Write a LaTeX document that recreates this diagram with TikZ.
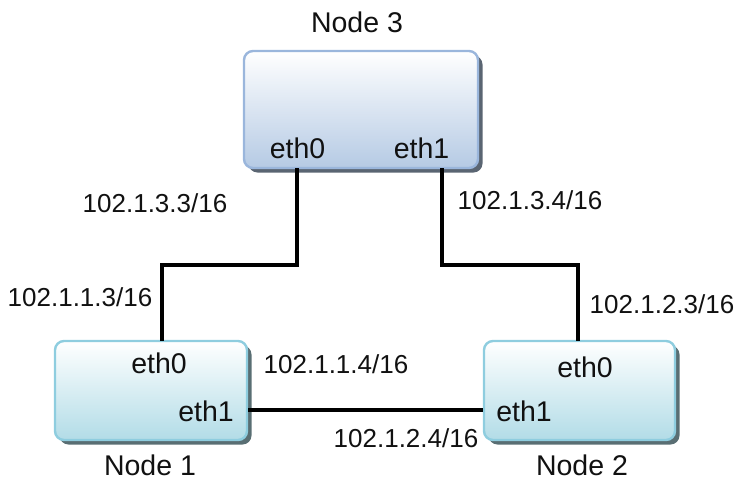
\documentclass[tikz,border=0pt]{standalone}
\usepackage{fontspec}
\setmainfont{Liberation Sans}
\usetikzlibrary{positioning, shadows, calc}
\definecolor{bodyText}{HTML}{111111}
\definecolor{hostBlue}{HTML}{B5CAE4}
\definecolor{hostBlueEdge}{HTML}{9AB6DC}
\definecolor{hostCyan}{HTML}{B2DCE7}
\definecolor{hostCyanEdge}{HTML}{8ECDDF}

\begin{document}
\begin{tikzpicture}[x=1pt, y=-1pt,
  every node/.style={font=\fontsize{26}{30}\selectfont, text=bodyText, inner sep=0pt},
  hostbox/.style={rectangle, rounded corners=9pt, line width=2.4pt, top color=white,
              drop shadow={shadow xshift=4.5pt, shadow yshift=-4.5pt, fill=black!50!#1, opacity=1}},
  bluehost/.style={hostbox=hostBlue, draw=hostBlueEdge, bottom color=hostBlue},
  cyanhost/.style={hostbox=hostCyan, draw=hostCyanEdge, bottom color=hostCyan},
  title/.style={anchor=base, font=\fontsize{28.5}{32}\selectfont},
  port/.style={anchor=base, font=\fontsize{28.5}{32}\selectfont},
  addr/.style={anchor=base},
  link/.style={draw=black, line width=3.5pt},
]
  \useasboundingbox (0,0) rectangle (738,483);

  % hosts
  \node[bluehost, minimum width=234pt, minimum height=117pt] at (361,109.5) (n3) {};
  \node[cyanhost, minimum width=192pt, minimum height=99pt] at (151,390.5) (n1) {};
  \node[cyanhost, minimum width=191pt, minimum height=99pt] at (579.5,390.5) (n2) {};

  \node[title] at (357,32)  (t3) {Node 3};
  \node[title] at (150,475) (t1) {Node 1};
  \node[title] at (582,475) (t2) {Node 2};

  % interfaces
  \node[port] at (297.5,158) (n3e0) {eth0};
  \node[port] at (421.5,158) (n3e1) {eth1};
  \node[port] at (159,373)   (n1e0) {eth0};
  \node[port] at (206,421)   (n1e1) {eth1};
  \node[port] at (585,377)   (n2e0) {eth0};
  \node[port] at (524,421)   (n2e1) {eth1};

  \coordinate (n3p0) at (297,168);
  \coordinate (n3p1) at (442,168);
  \coordinate (n1p0) at (162,341);
  \coordinate (n2p0) at (578,341);
  \coordinate (mid) at (0,265);

  % addresses
  \node[addr] at (155,212) (a33) {102.1.3.3/16};
  \node[addr] at (530,209) (a34) {102.1.3.4/16};
  \node[addr] at (80,306)  (a13) {102.1.1.3/16};
  \node[addr] at (662,313) (a23) {102.1.2.3/16};
  \node[addr] at (336,373) (a14) {102.1.1.4/16};
  \node[addr] at (406,447) (a24) {102.1.2.4/16};

  % links
  \draw[link] (n3p0) -- (n3p0 |- mid) -| (n1p0);
  \draw[link] (n3p1) -- (n3p1 |- mid) -| (n2p0);
  \draw[link] (n1.east |- 0,410) -- (n2.west |- 0,410);
\end{tikzpicture}
\end{document}
